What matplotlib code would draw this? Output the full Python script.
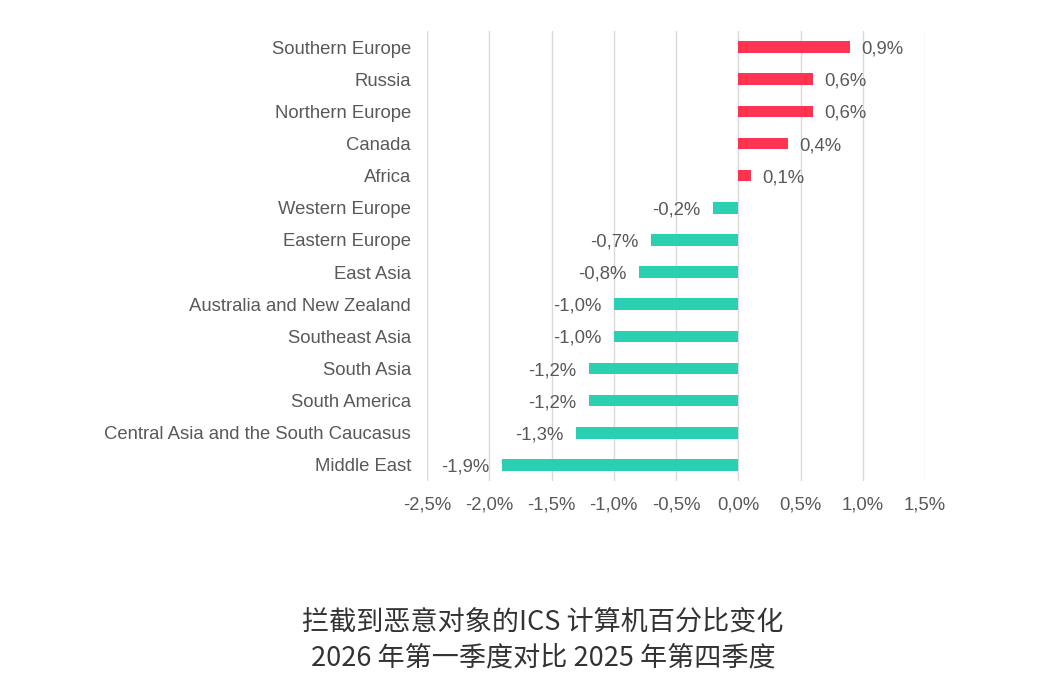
import matplotlib
matplotlib.use('Agg')
from matplotlib import pyplot as plt
import numpy as np

regions = ['Southern Europe', 'Russia', 'Northern Europe', 'Canada', 'Africa',
           'Western Europe', 'Eastern Europe', 'East Asia',
           'Australia and New Zealand', 'Southeast Asia', 'South Asia',
           'South America', 'Central Asia and the South Caucasus', 'Middle East']
change = [0.9, 0.6, 0.6, 0.4, 0.1, -0.2, -0.7, -0.8, -1.0, -1.0, -1.2, -1.2, -1.3, -1.9]
xticks = [-2.5, -2.0, -1.5, -1.0, -0.5, 0.0, 0.5, 1.0, 1.5]
title_lines = ['拦截到恶意对象的ICS 计算机百分比变化', '2026 年第一季度对比 2025 年第四季度']

plt.rcParams['font.family'] = ['Liberation Sans', 'DejaVu Sans']
gray = '#595959'
red = '#FF3352'
teal = '#2BCFB1'

fig = plt.figure(figsize=(10.63, 6.86), dpi=100)
ax = fig.add_axes([0.4017, 0.2988, 0.4685, 0.656])

y = np.arange(len(regions))
colors = [red if v > 0 else teal for v in change]
ax.barh(y, change, height=0.36, color=colors, zorder=3)

# value labels: right of red bars, left of teal bars
for yi, v in zip(y, change):
    label = '{:.1f}%'.format(v).replace('.', ',')
    if v > 0:
        ax.annotate(label, (v, yi), xytext=(8, 0), textcoords='offset points',
                    ha='left', va='center_baseline', fontsize=13.3, color=gray)
    else:
        ax.annotate(label, (v, yi), xytext=(-9, 0), textcoords='offset points',
                    ha='right', va='center_baseline', fontsize=13.3, color=gray)

ax.set_xlim(-2.5, 1.5)
ax.set_ylim(len(regions) - 0.5, -0.5)
ax.set_xticks(xticks)
ax.set_xticklabels(['{:.1f}%'.format(t).replace('.', ',') for t in xticks])
ax.set_yticks(y)
ax.set_yticklabels(regions)
ax.tick_params(axis='both', length=0, labelsize=13.3, labelcolor=gray)
ax.tick_params(axis='y', pad=11.5)
ax.tick_params(axis='x', pad=11)
ax.grid(axis='x', color='#D9D9D9', linewidth=1, zorder=0)
for s in ax.spines.values():
    s.set_visible(False)

for i, line in enumerate(title_lines):
    fig.text(0.511, 1 - (622 + 36 * i) / 686, line, ha='center', va='center',
             fontsize=19.5, style='italic', fontweight='light', color='#333333',
             family=['Noto Sans CJK SC', 'DejaVu Sans'])

fig.savefig('out.png', dpi=100)
